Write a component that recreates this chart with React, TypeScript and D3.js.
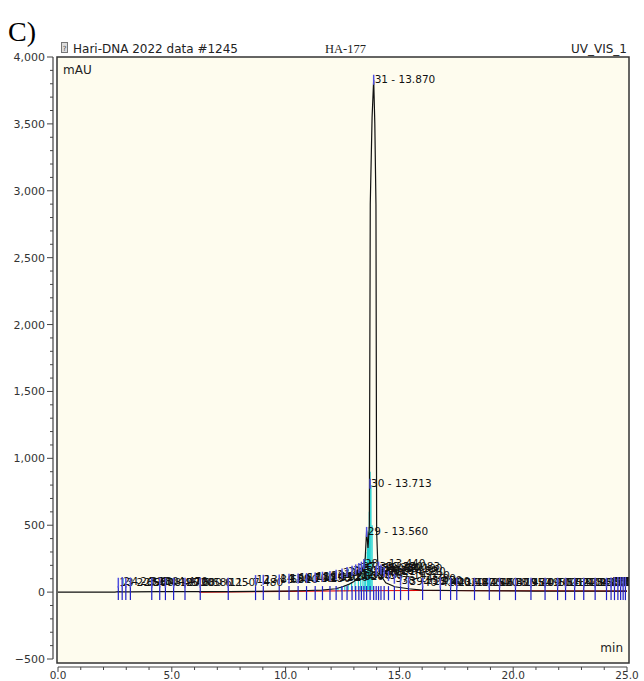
import React from "react";
import * as d3 from "d3";

// ---- data ----
const traceTimes = [0, 2.5, 2.65, 2.8, 3.2, 4.5, 5.6, 7.5, 8.7, 10, 11, 11.6, 12.2, 12.5, 12.8, 13.0, 13.2, 13.35, 13.44, 13.5, 13.56, 13.62, 13.68, 13.72, 13.8, 13.87, 13.92, 13.97, 14.0, 14.05, 14.1, 14.2, 14.4, 14.8, 15.4, 16, 18, 21, 25];
const traceValues = [0, 0, 3, 2, 2, 3, 3, 4, 6, 8, 12, 15, 25, 40, 60, 80, 110, 150, 200, 260, 460, 330, 500, 2900, 3550, 3830, 3500, 2900, 450, 220, 170, 120, 70, 40, 25, 15, 10, 8, 8];

const baselineTimes = [6.2, 10, 13, 16, 20, 25];
const baselineValues = [0, 5, 10, 12, 10, 8];

const cyanTimes = [12.3, 12.45, 12.6, 12.75, 12.9, 13.05, 13.2, 13.3, 13.4, 13.48, 13.52, 13.6, 13.64, 13.68, 13.713, 13.75, 13.8];
const cyanHeights = [30, 40, 50, 60, 75, 90, 110, 140, 180, 240, 300, 380, 450, 600, 900, 800, 500];

const peakTimes = [2.65, 2.82, 2.98, 3.18, 4.12, 4.47, 4.72, 5.08, 5.58, 6.25, 7.48, 8.68, 9.02, 9.72, 10.15, 10.55, 10.92, 11.3, 11.62, 11.95, 12.22, 12.48, 12.7, 12.92, 13.08, 13.22, 13.33, 13.44, 13.56, 13.713, 13.87, 13.98, 14.083, 14.19, 14.33, 14.52, 14.78, 15.05, 15.4, 16.02, 16.8, 17.25, 17.52, 18.3, 18.95, 19.4, 20.1, 20.78, 21.4, 21.95, 22.3, 22.7, 23.1, 23.6, 24.1, 24.3, 24.45, 24.6, 24.72, 24.83, 24.93];
const peakHeights = [40, 45, 40, 42, 40, 42, 40, 40, 40, 40, 40, 60, 62, 65, 70, 72, 75, 80, 85, 90, 100, 110, 120, 130, 140, 150, 160, 180, 420, 780, 3800, 130, 160, 140, 120, 90, 70, 55, 45, 40, 40, 40, 40, 40, 40, 40, 40, 40, 40, 40, 40, 40, 40, 40, 40, 42, 45, 45, 45, 45, 45];

const yTicks = [-500, 0, 500, 1000, 1500, 2000, 2500, 3000, 3500, 4000];
const xTicks = [0, 5, 10, 15, 20, 25];

const headerLeft = "Hari-DNA 2022 data #1245";
const headerMid = "HA-177";
const headerRight = "UV_VIS_1";

export default function App() {
  const W = 644, H = 681;
  const x = d3.scaleLinear().domain([0, 25]).range([58, 627]);
  const y = d3.scaleLinear().domain([-500, 4000]).range([659, 57]);
  const frame = { x0: 57, x1: 629, y0: 57, y1: 663 };

  const trace = traceTimes.map((t, i) => [t, traceValues[i]] as [number, number]);
  const line = d3.line<[number, number]>().x(d => x(d[0])).y(d => y(d[1]));
  const base = baselineTimes.map((t, i) => [t, baselineValues[i]] as [number, number]);

  const yMinor = d3.range(-500, 4001, 100);
  const xMinor = d3.range(0, 25.01, 1);
  const font = "'DejaVu Sans', Verdana, sans-serif";

  return (
    <svg width={W} height={H} style={{ position: "absolute", left: 0, top: 0 }}>
      <defs>
        <clipPath id="plotclip">
          <rect x={frame.x0} y={frame.y0} width={frame.x1 - frame.x0} height={frame.y1 - frame.y0} />
        </clipPath>
      </defs>
      <rect x={0} y={0} width={W} height={H} fill="#fff" />
      <text x={8} y={41} fontFamily="'Liberation Serif', 'Times New Roman', serif" fontSize={28}>C)</text>

      {/* header */}
      <rect x={61.5} y={42.5} width={6} height={10} fill="#ddd" stroke="#777" strokeWidth={1} />
      <text x={64.5} y={51} fontSize={7} textAnchor="middle" fontFamily={font} fill="#444">?</text>
      <text x={73} y={53} fontFamily={font} fontSize={12} fill="#222">{headerLeft}</text>
      <text x={325} y={53} fontFamily="'Liberation Serif', serif" fontSize={12.5} fill="#222">{headerMid}</text>
      <text x={627} y={53} textAnchor="end" fontFamily={font} fontSize={12} fill="#222">{headerRight}</text>

      {/* plot background */}
      <rect x={frame.x0} y={frame.y0} width={frame.x1 - frame.x0} height={frame.y1 - frame.y0} fill="#FEFCEE" />

      {/* y axis */}
      <line x1={53} x2={53} y1={y(4000)} y2={y(-500)} stroke="#444" strokeWidth={1.2} />
      {yMinor.map(v => (
        <line key={"ym" + v} x1={v % 500 === 0 ? 47 : 50} x2={53} y1={y(v)} y2={y(v)} stroke="#444" strokeWidth={1} />
      ))}
      {yTicks.map(v => (
        <text key={"yl" + v} x={45} y={y(v) + 4} textAnchor="end" fontFamily={font} fontSize={11} fill="#333">
          {d3.format(",")(v)}
        </text>
      ))}

      {/* x axis */}
      <line x1={x(0)} x2={x(25)} y1={667} y2={667} stroke="#444" strokeWidth={1.2} />
      {xMinor.map(v => (
        <line key={"xm" + v} x1={x(v)} x2={x(v)} y1={667} y2={Math.abs(v % 5) < 1e-6 ? 672 : 670} stroke="#444" strokeWidth={1} />
      ))}
      {xTicks.map(v => (
        <text key={"xl" + v} x={x(v)} y={679} textAnchor="middle" fontFamily={font} fontSize={10.5} fill="#333">
          {v.toFixed(1)}
        </text>
      ))}

      <text x={63} y={74} fontFamily={font} fontSize={12} fill="#222">mAU</text>
      <text x={623} y={652} textAnchor="end" fontFamily={font} fontSize={12} fill="#222">min</text>

      <g clipPath="url(#plotclip)">
        {/* cyan peak dividers */}
        {cyanTimes.map((t, i) => (
          <line key={"c" + i} x1={x(t)} x2={x(t)} y1={y(5)} y2={y(cyanHeights[i])} stroke="#22D3D3" strokeWidth={1.2} />
        ))}

        {/* baseline (red) */}
        <path d={line(base) || ""} fill="none" stroke="#E00000" strokeWidth={1.2} />

        {/* trace */}
        <path d={line(trace) || ""} fill="none" stroke="#111" strokeWidth={1.2} />

        {/* peak markers */}
        {peakTimes.map((t, i) => (
          <g key={"p" + i}>
            <line x1={x(t)} x2={x(t)} y1={y(0) - 6} y2={y(0) + 8} stroke="#2020C8" strokeWidth={1.2} />
            <line x1={x(t)} x2={x(t)} y1={y(peakHeights[i]) - 9} y2={y(peakHeights[i]) + 1} stroke="#5050E0" strokeWidth={1.5} />
            <text x={x(t) + 1} y={y(peakHeights[i]) - 1} fontFamily={font} fontSize={10.5} fill="#111">
              {`${i + 1} - ${t.toFixed(3)}`}
            </text>
          </g>
        ))}
      </g>

      {/* frame */}
      <rect x={frame.x0} y={frame.y0} width={frame.x1 - frame.x0} height={frame.y1 - frame.y0} fill="none" stroke="#333" strokeWidth={1.5} />
    </svg>
  );
}
